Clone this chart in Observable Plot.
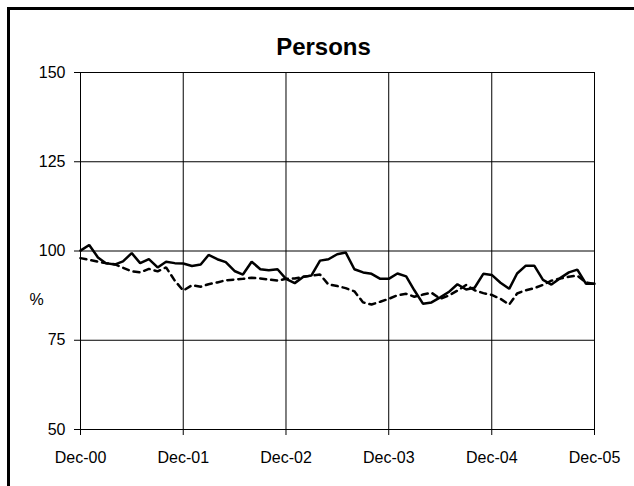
<!DOCTYPE html>
<html>
<head>
<meta charset="utf-8">
<script src="https://cdn.jsdelivr.net/npm/d3@7"></script>
<script src="https://cdn.jsdelivr.net/npm/@observablehq/plot@0.6"></script>
<style>
  html, body { margin: 0; padding: 0; background: white; overflow: hidden; }
  #wrap { position: relative; width: 634px; height: 486px; overflow: hidden; }
  #frame { position: absolute; left: 7px; top: 7px; width: 1000px; height: 1000px; border: 3px solid black; pointer-events: none; }
</style>
</head>
<body>
<div id="wrap"><div id="frame"></div></div>
<script>
const title = "Persons";
const yLabel = "%";
const startYear = 2000, startMonth = 11; // Dec-00
const solid = [
  100.1, 101.7, 98.2, 96.6, 96.2, 97.1, 99.4, 96.6, 97.7, 95.4, 97.0, 96.6,
  96.5, 95.8, 96.2, 98.9, 97.7, 96.9, 94.4, 93.4, 97.0, 94.9, 94.6, 94.9,
  92.2, 91.0, 92.8, 93.1, 97.3, 97.7, 99.1, 99.6, 94.9, 94.0, 93.6, 92.2,
  92.2, 93.7, 92.9, 89.0, 85.2, 85.6, 87.0, 88.5, 90.7, 89.2, 89.7, 93.6,
  93.3, 91.1, 89.4, 93.7, 95.9, 95.9, 91.9, 90.6, 92.4, 94.0, 94.8, 90.8,
  90.8
];
const dashed = [
  98.0, 97.5, 97.0, 96.6, 96.3, 95.3, 94.3, 94.0, 95.0, 94.3, 95.4, 91.7,
  88.9, 90.4, 90.0, 90.7, 91.2, 91.8, 92.0, 92.2, 92.5, 92.3, 92.0, 91.7,
  92.2, 92.3, 92.8, 93.1, 93.4, 90.6, 90.2, 89.6, 88.7, 85.6, 85.0, 85.8,
  86.6, 87.6, 88.0, 87.2, 87.8, 88.3, 86.6, 87.5, 88.9, 90.5, 89.0, 88.2,
  87.7, 86.6, 85.0, 88.1, 89.0, 89.6, 90.5, 91.7, 92.3, 92.8, 93.1, 91.2,
  90.8
];
const yTicks = [50, 75, 100, 125, 150];
const xTickLabels = ["Dec-00", "Dec-01", "Dec-02", "Dec-03", "Dec-04", "Dec-05"];

const start = new Date(Date.UTC(startYear, startMonth, 1));
const month = i => d3.utcMonth.offset(start, i);
const rows = [];
solid.forEach((v, i) => rows.push({date: month(i), value: v, series: "solid"}));
dashed.forEach((v, i) => rows.push({date: month(i), value: v, series: "dashed"}));
const xTicks = xTickLabels.map((_, i) => month(i * 12));
const labelOf = new Map(xTicks.map((d, i) => [+d, xTickLabels[i]]));

const chart = Plot.plot({
  width: 634,
  height: 486,
  marginLeft: 80,
  marginRight: 40,
  marginTop: 72,
  marginBottom: 57,
  style: {fontFamily: "'Liberation Sans', Arial, sans-serif", fontSize: "16px", background: "transparent", color: "black"},
  x: {type: "utc", domain: [xTicks[0], xTicks[xTicks.length - 1]]},
  y: {domain: [50, 150]},
  marks: [
    Plot.gridY(yTicks, {stroke: "black", strokeOpacity: 1}),
    Plot.gridX(xTicks, {stroke: "black", strokeOpacity: 1}),
    Plot.axisY(yTicks, {tickSize: 6, tickPadding: 9, label: null, fontSize: 16}),
    Plot.axisX(xTicks, {tickSize: 6, tickPadding: 16, label: null, fontSize: 16, tickFormat: d => labelOf.get(+d)}),
    Plot.line(rows.filter(d => d.series === "dashed"), {x: "date", y: "value", stroke: "black", strokeWidth: 2.5, strokeDasharray: "6,5", strokeLinejoin: "miter"}),
    Plot.line(rows.filter(d => d.series === "solid"), {x: "date", y: "value", stroke: "black", strokeWidth: 2.5, strokeLinejoin: "miter"}),
    Plot.text([title], {text: d => d, frameAnchor: "top", dx: -14, dy: -18, lineAnchor: "bottom", fontSize: 24, fontWeight: "bold"}),
    Plot.text([yLabel], {text: d => d, frameAnchor: "left", dx: -44, dy: 49, textAnchor: "middle", fontSize: 16})
  ]
});
document.getElementById("wrap").insertBefore(chart, document.getElementById("frame"));
</script>
</body>
</html>
